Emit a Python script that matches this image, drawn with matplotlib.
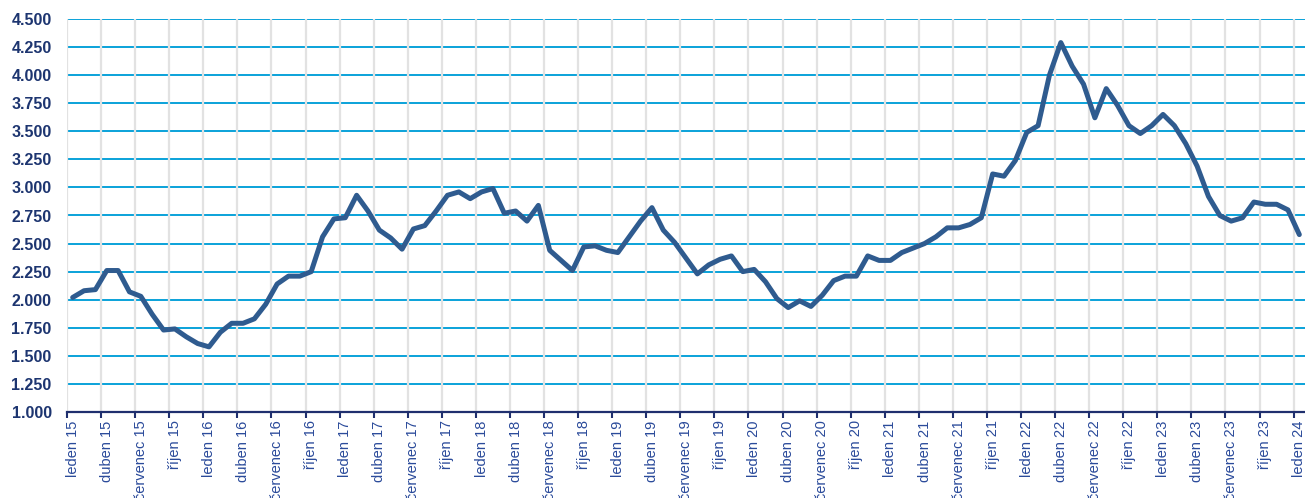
import matplotlib
matplotlib.use("Agg")
import matplotlib.pyplot as plt
import numpy as np

plt.rcParams['font.family'] = ['Liberation Sans', 'DejaVu Sans']

# monthly values, leden 15 .. leden 24
values = [
    2.02, 2.08, 2.09, 2.26, 2.26, 2.07, 2.03, 1.87, 1.73, 1.74, 1.67, 1.61,
    1.58, 1.71, 1.79, 1.79, 1.83, 1.96, 2.14, 2.21, 2.21, 2.25, 2.56, 2.72,
    2.73, 2.93, 2.79, 2.62, 2.55, 2.45, 2.63, 2.66, 2.79, 2.93, 2.96, 2.90,
    2.96, 2.99, 2.77, 2.79, 2.70, 2.84, 2.44, 2.35, 2.26, 2.47, 2.48, 2.44,
    2.42, 2.56, 2.70, 2.82, 2.62, 2.51, 2.37, 2.23, 2.31, 2.36, 2.39, 2.25,
    2.27, 2.16, 2.01, 1.93, 1.99, 1.94, 2.04, 2.17, 2.21, 2.21, 2.39, 2.35,
    2.35, 2.42, 2.46, 2.50, 2.56, 2.64, 2.64, 2.67, 2.73, 3.12, 3.10, 3.24,
    3.49, 3.55, 4.00, 4.29, 4.08, 3.92, 3.62, 3.88, 3.73, 3.55, 3.48, 3.55,
    3.65, 3.55, 3.39, 3.19, 2.92, 2.75, 2.70, 2.73, 2.87, 2.85, 2.85, 2.80,
    2.58,
]
month_names = ['leden', 'duben', 'červenec', 'říjen']
years = ['15', '16', '17', '18', '19', '20', '21', '22', '23', '24']
y_ticks = [1.0, 1.25, 1.5, 1.75, 2.0, 2.25, 2.5, 2.75, 3.0, 3.25, 3.5, 3.75, 4.0, 4.25, 4.5]
y_labels = ['1.000', '1.250', '1.500', '1.750', '2.000', '2.250', '2.500', '2.750',
            '3.000', '3.250', '3.500', '3.750', '4.000', '4.250', '4.500']

n = len(values)
x = np.arange(n)
label_pos = np.arange(0, n, 3)
tick_labels = [f"{month_names[(p // 3) % 4]} {years[p // 12]}" for p in label_pos]

fig = plt.figure(figsize=(13.05, 4.98), dpi=100)
ax = fig.add_axes([67 / 1305, 1 - 412 / 498, 1 - 67 / 1305, (412 - 19) / 498])

# grid: blue horizontal lines, light grey vertical lines on top of them
for yv in y_ticks[1:]:
    ax.axhline(yv, color='#0aa2d9', lw=1.4, zorder=1)
for p in label_pos:
    ax.axvline(p - 0.5, color='#e2e2e2', lw=1.6, zorder=2)

ax.plot(x, values, color='#2f5b8f', lw=3.6, solid_joinstyle='round',
        solid_capstyle='round', zorder=3)

ax.set_xlim(-0.5, n - 0.5)
ax.set_ylim(1.0, 4.5)

ax.set_xticks(label_pos - 0.5)
ax.set_xticklabels([])
ax.tick_params(axis='x', which='major', length=4, width=1.5, color='#1f2f6e', direction='out')
ax.set_xticks(label_pos, minor=True)
ax.set_xticklabels(tick_labels, minor=True, rotation=90, fontsize=10.5, color='#2a4a9a')
ax.tick_params(axis='x', which='minor', length=0, pad=6)

ax.set_yticks(y_ticks)
ax.set_yticklabels(y_labels, fontsize=11.5, fontweight='bold', color='#1d3570')
ax.tick_params(axis='y', length=0, pad=11)

for s in ['top', 'right', 'left']:
    ax.spines[s].set_visible(False)
ax.spines['bottom'].set_color('#1f2f6e')
ax.spines['bottom'].set_linewidth(1.6)
ax.spines['bottom'].set_zorder(4)

fig.savefig('out.png', dpi=100)
